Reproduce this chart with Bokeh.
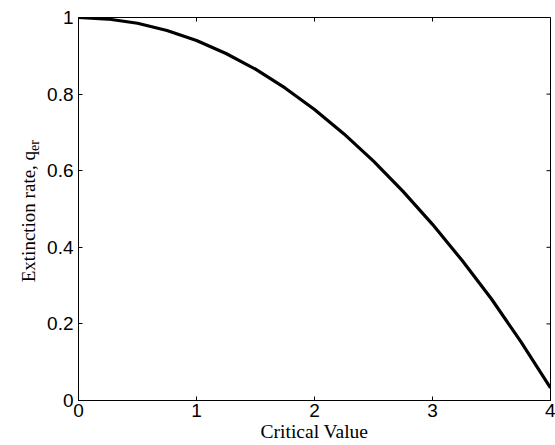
import math
from bokeh.plotting import figure
from bokeh.models import Range1d, FixedTicker, ColumnDataSource
from bokeh.layouts import row
from bokeh.core.properties import value
from bokeh.embed import file_html
from bokeh.resources import INLINE

critical_value = [0.0, 0.25, 0.5, 0.75, 1.0, 1.25, 1.5, 1.75, 2.0, 2.25, 2.5, 2.75, 3.0, 3.25, 3.5, 3.75, 4.0]
extinction_rate = [1.000, 0.996, 0.985, 0.966, 0.940, 0.906, 0.865, 0.816, 0.760, 0.696, 0.625, 0.546, 0.460, 0.366, 0.265, 0.153, 0.033]
x_ticks = [0, 1, 2, 3, 4]
y_ticks = [0, 0.2, 0.4, 0.6, 0.8, 1]
y_tick_labels = ["0", "0.2", "0.4", "0.6", "0.8", "1"]
x_label = "Critical Value"
y_label_main = "Extinction rate, q"
y_label_sub = "er"

sans = "Liberation Sans"
serif = "Liberation Serif"
LEFT_W = 44
H = 445

# narrow strip holding the y-axis title (with subscript)
left = figure(width=LEFT_W, height=H, output_backend="svg", toolbar_location=None,
              x_range=Range1d(0, LEFT_W), y_range=Range1d(0, H),
              min_border=0)
left.axis.visible = False
left.grid.visible = False
left.outline_line_color = None
left.background_fill_color = "white"
left.border_fill_color = "white"
left.text(x=[28], y=[H - 155], text=[y_label_main], angle=math.pi / 2,
          text_align="right", text_baseline="alphabetic",
          text_font=value(serif), text_font_size=value("19px"), text_color="black")
left.text(x=[34], y=[H - 155], text=[y_label_sub], angle=math.pi / 2,
          text_align="left", text_baseline="alphabetic",
          text_font=value(serif), text_font_size=value("14px"), text_color="black")

p = figure(width=555 - LEFT_W, height=H, output_backend="svg", toolbar_location=None,
           x_range=Range1d(0, 4), y_range=Range1d(0, 1),
           min_border_left=78 - LEFT_W, min_border_right=5, min_border_top=17, min_border_bottom=45)
p.grid.visible = False
p.outline_line_color = "black"
p.outline_line_width = 1
p.background_fill_color = "white"
p.border_fill_color = "white"

src = ColumnDataSource(dict(x=critical_value, y=extinction_rate))
p.line("x", "y", source=src, line_color="black", line_width=3.2)

# mirrored inward ticks on the top and right edges
p.ray(x=[x_ticks[-1]] * len(y_ticks), y=y_ticks, length=4, length_units="screen",
      angle=math.pi, line_color="black", line_width=1)
p.ray(x=x_ticks, y=[y_ticks[-1]] * len(x_ticks), length=4, length_units="screen",
      angle=-math.pi / 2, line_color="black", line_width=1)

xa = p.xaxis[0]
xa.ticker = FixedTicker(ticks=x_ticks)
xa.major_tick_in = 4
xa.major_tick_out = 0
xa.minor_tick_line_color = None
xa.major_label_text_font = sans
xa.major_label_text_font_size = "19px"
xa.major_label_text_color = "black"
xa.major_label_standoff = 3
xa.axis_label = x_label
xa.axis_label_text_font = serif
xa.axis_label_text_font_style = "normal"
xa.axis_label_text_font_size = "19.5px"
xa.axis_label_text_color = "black"
xa.axis_label_standoff = 1
xa.axis_line_color = "black"

ya = p.yaxis[0]
ya.ticker = FixedTicker(ticks=y_ticks)
ya.major_label_overrides = {t: l for t, l in zip(y_ticks, y_tick_labels)}
ya.major_tick_in = 4
ya.major_tick_out = 0
ya.minor_tick_line_color = None
ya.major_label_text_font = sans
ya.major_label_text_font_size = "19px"
ya.major_label_text_color = "black"
ya.major_label_standoff = 5
ya.axis_line_color = "black"

layout = row(left, p)
open("out.html", "w").write(file_html(layout, INLINE))
